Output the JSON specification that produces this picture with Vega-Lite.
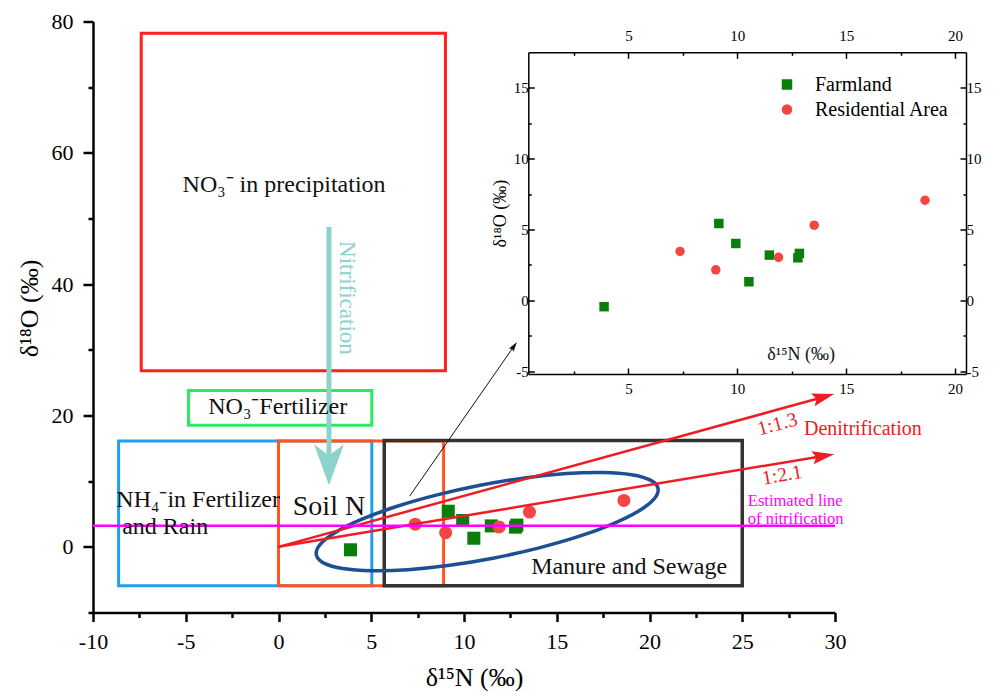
{
"$schema":"https://vega.github.io/schema/vega-lite/v6.json",
"width":742,"height":591,
"autosize":"none",
"padding":{"left":93,"top":21.5,"right":162,"bottom":78.5},
"background":"white",
"config":{
 "view":{"stroke":null},
 "font":"Liberation Serif",
 "text":{"font":"Liberation Serif"},
 "axis":{"labelFont":"Liberation Serif","titleFont":"Liberation Serif","grid":false,"domainColor":"black","tickColor":"black","labelColor":"black","titleColor":"black","titleFontWeight":"normal","labelFlush":false,"labelOverlap":false},
 "legend":{"labelFont":"Liberation Serif","labelColor":"black"}
},
"datasets":{
 "samples":[
  {"type":"Farmland","x":3.88,"y":-0.45},
  {"type":"Farmland","x":9.15,"y":5.42},
  {"type":"Farmland","x":9.93,"y":4.01},
  {"type":"Farmland","x":10.53,"y":1.31},
  {"type":"Farmland","x":11.47,"y":3.19},
  {"type":"Farmland","x":12.78,"y":3.0},
  {"type":"Farmland","x":12.85,"y":3.31},
  {"type":"Residential Area","x":7.37,"y":3.45},
  {"type":"Residential Area","x":9.01,"y":2.15},
  {"type":"Residential Area","x":11.89,"y":3.03},
  {"type":"Residential Area","x":13.53,"y":5.3},
  {"type":"Residential Area","x":18.62,"y":7.06}
 ]
},
"layer":[
 {
  "encoding":{
   "x":{"field":"x","type":"quantitative","scale":{"domain":[-10,30],"nice":false,"zero":false},
     "axis":{"orient":"bottom","offset":0,"values":[-10,-7.5,-5,-2.5,0,2.5,5,7.5,10,12.5,15,17.5,20,22.5,25,27.5,30],
       "labelExpr":"datum.value % 5 === 0 ? toString(datum.value) : ''",
       "tickSize":{"condition":{"test":"datum.value % 5 === 0","value":9},"value":5},
       "tickWidth":2.5,"domainWidth":2.5,"labelFont":"Liberation Serif","labelFontSize":22,"labelPadding":10,
       "title":"δ¹⁵N (‰)","titleFont":"Liberation Serif","titleFontSize":26,"titlePadding":12,"titleX":381}},
   "y":{"field":"y","type":"quantitative","scale":{"domain":[-10,80],"nice":false,"zero":false},
     "axis":{"orient":"left","offset":0,"values":[-10,0,10,20,30,40,50,60,70,80],
       "labelExpr":"datum.value % 20 === 0 ? toString(datum.value) : ''",
       "tickSize":{"condition":{"test":"datum.value % 20 === 0","value":10},"value":5},
       "tickWidth":2.5,"domainWidth":2.5,"labelFont":"Liberation Serif","labelFontSize":22,"labelPadding":10,
       "title":"δ¹⁸O (‰)","titleFont":"Liberation Serif","titleFontSize":26,"titlePadding":9,"titleY":286.5}}
  },
  "layer":[
   {"data":{"values":[{"x":-7.4,"x2":9.0,"y":26.8,"y2":78.2}]},
    "mark":{"type":"rect","filled":false,"stroke":"#ff2020","strokeWidth":3},
    "encoding":{"x2":{"field":"x2"},"y2":{"field":"y2"}}},
   {"data":{"values":[{"x":-4.85,"x2":5.03,"y":18.5,"y2":23.8}]},
    "mark":{"type":"rect","filled":false,"stroke":"#2de860","strokeWidth":3},
    "encoding":{"x2":{"field":"x2"},"y2":{"field":"y2"}}},
   {"data":{"values":[{"x":-8.62,"x2":5.03,"y":-5.94,"y2":16.1}]},
    "mark":{"type":"rect","filled":false,"stroke":"#1ea0ee","strokeWidth":3},
    "encoding":{"x2":{"field":"x2"},"y2":{"field":"y2"}}},
   {"data":{"values":[{"x":0,"x2":8.9,"y":-5.94,"y2":16.1}]},
    "mark":{"type":"rect","filled":false,"stroke":"#ff5520","strokeWidth":3},
    "encoding":{"x2":{"field":"x2"},"y2":{"field":"y2"}}},
   {"data":{"values":[{"x":5.7,"x2":25.0,"y":-5.94,"y2":16.2}]},
    "mark":{"type":"rect","filled":false,"stroke":"#333333","strokeWidth":3.5},
    "encoding":{"x2":{"field":"x2"},"y2":{"field":"y2"}}},
   {"data":{"values":[{"x":2.72,"y":48.7},{"x":2.72,"y":13.5}]},
    "mark":{"type":"line","stroke":"#8ed3cb","strokeWidth":5}},
   {"data":{"values":[{"x":2.72,"y":12.5}]},
    "mark":{"type":"point","shape":"M-0.73,-1L0,-0.45L0.73,-1L0,1Z","size":1681,"filled":true,"color":"#8ed3cb","opacity":1,"strokeWidth":0}},
   {"data":{"values":[
     {"i":0,"x":20.46,"y":8.90},{"i":1,"x":20.25,"y":7.29},{"i":2,"x":19.42,"y":5.45},{"i":3,"x":18.03,"y":3.51},
     {"i":4,"x":16.19,"y":1.58},{"i":5,"x":14.00,"y":-0.19},{"i":6,"x":11.63,"y":-1.69},{"i":7,"x":9.23,"y":-2.81},
     {"i":8,"x":6.97,"y":-3.48},{"i":9,"x":5.01,"y":-3.64},{"i":10,"x":3.46,"y":-3.30},{"i":11,"x":2.45,"y":-2.48},
     {"i":12,"x":2.04,"y":-1.22},{"i":13,"x":2.25,"y":0.39},{"i":14,"x":3.08,"y":2.23},{"i":15,"x":4.47,"y":4.17},
     {"i":16,"x":6.31,"y":6.10},{"i":17,"x":8.50,"y":7.87},{"i":18,"x":10.87,"y":9.37},{"i":19,"x":13.27,"y":10.49},
     {"i":20,"x":15.53,"y":11.16},{"i":21,"x":17.50,"y":11.32},{"i":22,"x":19.04,"y":10.98},{"i":23,"x":20.05,"y":10.16}]},
    "mark":{"type":"line","interpolate":"cardinal-closed","stroke":"#1c4f94","strokeWidth":3.5},
    "encoding":{"order":{"field":"i","type":"quantitative"}}},
   {"data":{"name":"samples"},
    "mark":{"type":"point","filled":true,"size":170,"opacity":1,"strokeWidth":0},
    "encoding":{
     "color":{"field":"type","type":"nominal","scale":{"domain":["Farmland","Residential Area"],"range":["#0b7d0b","#f44545"]},
       "legend":{"orient":"none","legendX":684,"legendY":53,"title":null,"labelFont":"Liberation Serif","labelFontSize":20,"symbolSize":110,"labelOffset":18,"rowPadding":5,"padding":0,"symbolStrokeWidth":0}},
     "shape":{"field":"type","type":"nominal","scale":{"domain":["Farmland","Residential Area"],"range":["square","circle"]},
       "legend":{"orient":"none","legendX":684,"legendY":53,"title":null,"labelFont":"Liberation Serif","labelFontSize":20,"symbolSize":110,"labelOffset":18,"rowPadding":5,"padding":0,"symbolStrokeWidth":0}}
    }},
   {"data":{"values":[{"id":"a","x":0,"y":0},{"id":"a","x":29.38,"y":22.82},{"id":"b","x":0,"y":0},{"id":"b","x":29.37,"y":13.84}]},
    "mark":{"type":"line","stroke":"#ee1c24","strokeWidth":2.5},
    "encoding":{"detail":{"field":"id","type":"nominal"}}},
   {"data":{"values":[{"x":29.38,"y":22.82}]},
    "mark":{"type":"point","shape":"M-1,-0.6L-0.65,0L-1,0.6L1,0Z","size":484,"angle":344.6,"filled":true,"color":"#ee1c24","opacity":1,"strokeWidth":0}},
   {"data":{"values":[{"x":29.37,"y":13.84}]},
    "mark":{"type":"point","shape":"M-1,-0.6L-0.65,0L-1,0.6L1,0Z","size":484,"angle":350.5,"filled":true,"color":"#ee1c24","opacity":1,"strokeWidth":0}},
   {"data":{"values":[{"x":-10,"y":3.2},{"x":30,"y":3.2}]},
    "mark":{"type":"line","stroke":"#ff00ff","strokeWidth":2.5}},
   {"data":{"values":[{"x":7.07,"y":7.72},{"x":12.7,"y":30.58}]},
    "mark":{"type":"line","stroke":"#111111","strokeWidth":1}},
   {"data":{"values":[{"x":12.7,"y":30.58}]},
    "mark":{"type":"point","shape":"M-1,-0.55L-0.7,0L-1,0.55L1,0Z","size":100,"angle":304.8,"filled":true,"color":"#111111","opacity":1,"strokeWidth":0}},
   {"data":{"values":[
     {"x":0.3,"y":55.1,"label":"NO₃⁻  in precipitation"},
     {"x":-0.04,"y":21.3,"label":"NO₃⁻Fertilizer"},
     {"x":-4.33,"y":7.2,"label":"NH₄⁻in Fertilizer"},
     {"x":-6.11,"y":3.05,"label":"and Rain"},
     {"x":18.9,"y":-3.05,"label":"Manure and Sewage"}]},
    "mark":{"type":"text","fontSize":24,"color":"#111111","align":"center","baseline":"middle"},
    "encoding":{"text":{"field":"label"}}},
   {"data":{"values":[{"x":2.72,"y":6.0,"label":"Soil N"}]},
    "mark":{"type":"text","fontSize":28,"color":"#111111","align":"center","baseline":"middle"},
    "encoding":{"text":{"field":"label"}}},
   {"data":{"values":[{"x":31.5,"y":17.9,"label":"Denitrification"}]},
    "mark":{"type":"text","fontSize":20,"color":"#ee1c24","align":"center","baseline":"middle"},
    "encoding":{"text":{"field":"label"}}},
   {"data":{"values":[{"x":26.9,"y":18.65,"label":"1:1.3"}]},
    "mark":{"type":"text","fontSize":20,"color":"#ee1c24","align":"center","baseline":"middle","angle":345},
    "encoding":{"text":{"field":"label"}}},
   {"data":{"values":[{"x":27.15,"y":10.9,"label":"1:2.1"}]},
    "mark":{"type":"text","fontSize":20,"color":"#ee1c24","align":"center","baseline":"middle","angle":350},
    "encoding":{"text":{"field":"label"}}},
   {"data":{"values":[{"x":25.3,"y":6.95,"label":"Estimated line"},{"x":25.3,"y":4.3,"label":"of nitrification"}]},
    "mark":{"type":"text","fontSize":16.5,"color":"#ff00ff","align":"left","baseline":"middle"},
    "encoding":{"text":{"field":"label"}}},
   {"data":{"values":[{"x":3.69,"y":37.9,"label":"Nitrification"}]},
    "mark":{"type":"text","fontSize":23,"color":"#8ed3cb","align":"center","baseline":"middle","angle":90},
    "encoding":{"text":{"field":"label"}}}
  ]
 },
 {
  "encoding":{
   "x":{"field":"x","type":"quantitative","scale":{"domain":[0.4,20.5],"range":[435.3,873],"nice":false,"zero":false},
     "axis":{"orient":"bottom","offset":-238.5,"values":[2.5,5,7.5,10,12.5,15,17.5,20],
       "labelExpr":"datum.value % 5 === 0 ? toString(datum.value) : ''",
       "tickSize":{"condition":{"test":"datum.value % 5 === 0","value":-6},"value":-3},
       "tickWidth":1.5,"domainWidth":1.5,"labelFont":"Liberation Serif","labelFontSize":15,"labelPadding":13,"title":null}},
   "y":{"field":"y","type":"quantitative","scale":{"domain":[-5.2,17.5],"range":[352.5,30.8],"nice":false,"zero":false},
     "axis":{"orient":"left","offset":-435.3,"values":[-5,-2.5,0,2.5,5,7.5,10,12.5,15],
       "labelExpr":"datum.value % 5 === 0 ? toString(datum.value) : ''",
       "tickSize":{"condition":{"test":"datum.value % 5 === 0","value":-6},"value":-3},
       "tickWidth":1.5,"domainWidth":1.5,"labelFont":"Liberation Serif","labelFontSize":15,"labelPadding":6,
       "title":"δ¹⁸O (‰)","titleFont":"Liberation Serif","titleFontSize":18,"titlePadding":4}}
  },
  "layer":[
   {"data":{"name":"samples"},
    "mark":{"type":"point","filled":true,"size":90,"opacity":1,"strokeWidth":0},
    "encoding":{
     "color":{"field":"type","type":"nominal"},
     "shape":{"field":"type","type":"nominal"}
    }}
  ]
 },
 {
  "encoding":{
   "x":{"field":"x","type":"quantitative","scale":{"domain":[0.4,20.5],"range":[435.3,873],"nice":false,"zero":false},
     "axis":{"orient":"top","offset":-30.8,"values":[2.5,5,7.5,10,12.5,15,17.5,20],
       "labelExpr":"datum.value % 5 === 0 ? toString(datum.value) : ''",
       "tickSize":{"condition":{"test":"datum.value % 5 === 0","value":-6},"value":-3},
       "tickWidth":1.5,"domainWidth":1.5,"labelFont":"Liberation Serif","labelFontSize":15,"labelPadding":15,"title":null}},
   "y":{"field":"y","type":"quantitative","scale":{"domain":[-5.2,17.5],"range":[352.5,30.8],"nice":false,"zero":false},
     "axis":{"orient":"right","offset":131,"values":[-5,-2.5,0,2.5,5,7.5,10,12.5,15],
       "labelExpr":"datum.value % 5 === 0 ? toString(datum.value) : ''",
       "tickSize":{"condition":{"test":"datum.value % 5 === 0","value":-6},"value":-3},
       "tickWidth":1.5,"domainWidth":1.5,"labelFont":"Liberation Serif","labelFontSize":15,"labelPadding":6,"title":null}}
  },
  "layer":[
   {"data":{"values":[{"x":12.93,"y":-3.85,"label":"δ¹⁵N (‰)"}]},
    "mark":{"type":"text","fontSize":18,"color":"#111111","align":"center","baseline":"middle"},
    "encoding":{"text":{"field":"label"}}}
  ]
 }
],
"resolve":{"scale":{"x":"independent","y":"independent"},"axis":{"x":"independent","y":"independent"}}
}
